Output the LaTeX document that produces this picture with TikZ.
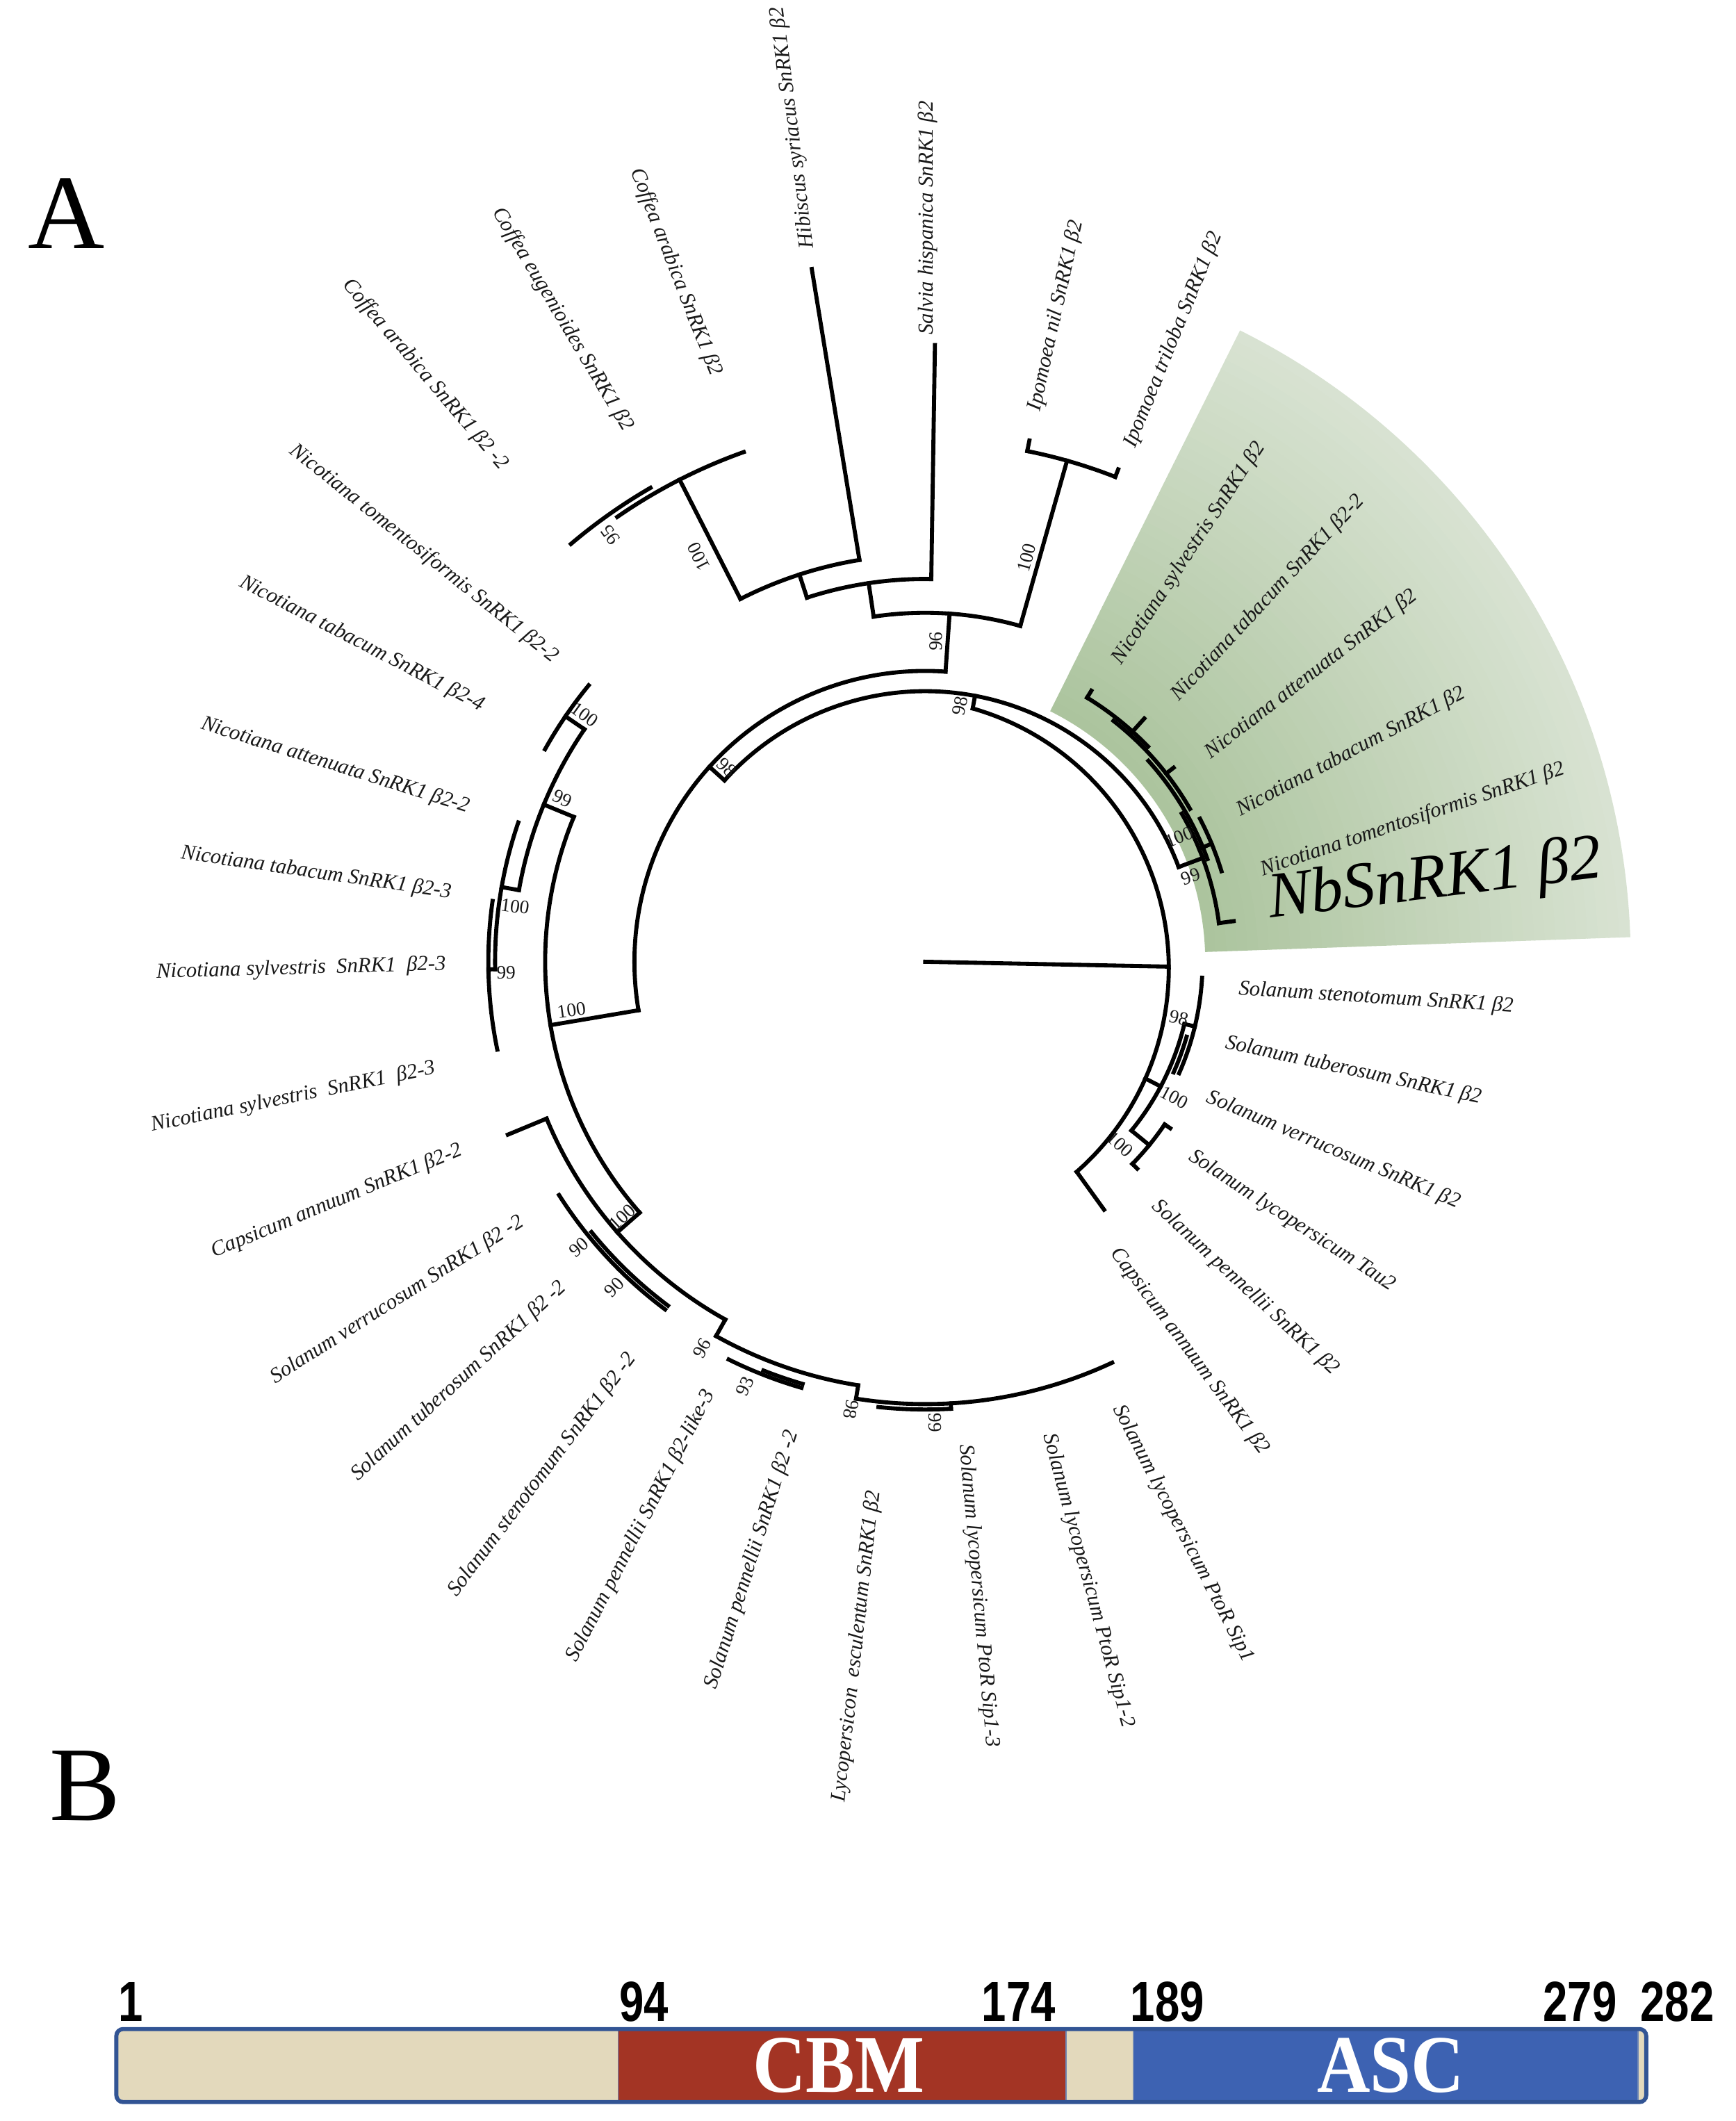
\documentclass[tikz,border=0pt]{standalone}
\usepackage{fontspec}
\setmainfont{Liberation Serif}
\newfontfamily\numfont{Liberation Sans}
\definecolor{gA}{RGB}{172,196,158}
\definecolor{gC}{RGB}{217,227,211}
\definecolor{beige}{RGB}{227,217,188}
\definecolor{cbmred}{RGB}{163,52,36}
\definecolor{ascblue}{RGB}{61,98,178}
\definecolor{barline}{RGB}{50,84,148}
\newcommand\tArc[3]{\draw[br] (#2:#1) arc[start angle=#2,end angle=#3,radius=#1mm];}
\newcommand\tRad[3]{\draw[br] (#1:#2) -- (#1:#3);}
\tikzset{
  br/.style={line width=3mm, line cap=rect, black},
  lab/.style={font=\fontsize{45}{50}\selectfont\itshape, inner sep=0pt, text=black!90},
  bs/.style={font=\fontsize{40}{44}\selectfont, inner sep=0pt, text=black!90},
  num/.style={font=\numfont\bfseries\fontsize{119}{120}\selectfont, inner sep=0pt, xscale=0.78},
  dom/.style={font=\fontsize{172}{172}\selectfont\bfseries, text=white, inner sep=0pt, xscale=0.9},
}
\begin{document}
\begin{tikzpicture}[x=1mm,y=1mm]
\useasboundingbox (0,0) rectangle (1283,-1568);
\fill[white] (0,0) rectangle (1283,-1568);

\begin{scope}[shift={(684,-711)}]
  % green sector, drawn as rings getting lighter outwards
  \foreach \i in {0,...,39} {
    \pgfmathsetmacro\ra{207+\i*7.85}
    \pgfmathsetmacro\rb{\ra+8.4}
    \pgfmathsetmacro\pc{100-\i*2.5}
    \fill[gA!\pc!gC] (2:\ra) arc[start angle=2,end angle=63.5,radius=\ra*1mm] -- (63.5:\rb) arc[start angle=63.5,end angle=2,radius=\rb*1mm] -- cycle;
  }
  % main arcs
  \tArc{200}{20.5}{137.9}
  \tRad{137.9}{200}{215}
  \tRad{20.5}{200}{219}
  \tArc{215}{86}{189.6}
  \tRad{86}{215}{258}
  \tRad{189.6}{215}{281}
  \tArc{258}{74.2}{98.5}
  \tRad{74.2}{258}{385}
  \tRad{98.5}{258}{283}
  \tArc{385}{68.6}{78.7}
  \tRad{78.7}{385}{393}
  \tRad{68.6}{385}{391}
  \tArc{283}{89.1}{108}
  \tRad{89.1}{283}{456}
  \tRad{108}{283}{301}
  \tArc{301}{99.3}{117}
  \tRad{99.3}{301}{519}
  \tRad{117}{301}{400}
  \tArc{400}{109.6}{124.7}
  \tArc{405}{120.1}{130.3}
  \tArc{281}{157.6}{221.3}
  \tRad{157.6}{281}{305}
  \tRad{221.3}{281}{303}
  \tArc{305}{145.7}{170}
  \tRad{145.7}{305}{322}
  \tRad{170}{305}{318}
  \tArc{322}{140.6}{150.8}
  \tArc{318}{161.1}{181}
  \tRad{181}{318}{323}
  \tArc{323}{172}{191.6}
  \tArc{303}{202.5}{240.8}
  \tRad{202.5}{303}{334}
  \tRad{240.8}{303}{317}
  \tArc{321}{212.5}{233.2}
  \tArc{317.5}{219}{233.2}
  \tArc{317}{240.8}{261}
  \tRad{261}{317}{327}
  \tArc{328}{243.7}{253.8}
  \tArc{325}{248.4}{253.8}
  \tArc{327}{261}{295}
  \tArc{331}{264}{273.3}
  \tRad{273.3}{327}{331}
  % Solanum (right)
  \tArc{197}{-13.5}{-39.3}
  \tRad{-13.5}{197}{205}
  \tRad{-39.3}{197}{214}
  \tArc{205}{-3.3}{-23.7}
  \tArc{201}{-16}{-24}
  \tArc{214}{-34.2}{-44.3}
  \tRad{-34.2}{214}{219}
  \tRad{-44.3}{214}{219}
  % green clade
  \tArc{219}{7.5}{30}
  \tArc{222}{20}{42}
  \tArc{226}{30}{52}
  \tArc{229}{44}{58.5}
  \tRad{7.5}{219}{230}
  \tRad{58.5}{229}{235}
  \tRad{48}{228}{242}
  \tRad{38}{226}{233}
  \tRad{22.4}{219}{229}
  \tArc{229}{17}{27.5}
  % root and innermost arc
  \draw[br] (0,0) -- (180,-3.6);
  \begin{scope}[shift={(-20,-5)}]
    \draw[br] (74:200) arc[start angle=74,end angle=-48.7,radius=200mm];
  \end{scope}
  \draw[br] (35.1,187.3) -- (79.4:200);
  \draw[br] (112,-155.3) -- (-54.2:226);
  \draw[br] (162.7,-86.3) -- (-27.9:197);

  % bootstrap values
  \node[bs, rotate=80] (b1) at (82.3:191) {98};
  \node[bs, rotate=-44] (b2) at (135.6:205.3) {98};
  \node[bs, rotate=88] (b3) at (88.1:237) {96};
  \node[bs, rotate=75] (b4) at (75.9:308) {100};
  \node[bs, rotate=117] (b5) at (119.2:343) {100};
  \node[bs, rotate=126] (b6) at (126.4:392) {95};
  \node[bs, rotate=8] (b7) at (187.8:264) {100};
  \node[bs, rotate=-24] (b8) at (155.8:294) {99};
  \node[bs, rotate=-36] (b9) at (144:311) {100};
  \node[bs, rotate=-8] (b10) at (172.3:306) {100};
  \node[bs, rotate=0] (b11) at (181.5:310) {99};
  \node[bs, rotate=43] (b12) at (220.1:293) {100};
  \node[bs, rotate=40] (b13) at (219.5:332) {90};
  \node[bs, rotate=46] (b14) at (226.3:333) {90};
  \node[bs, rotate=60] (b15) at (240:330) {96};
  \node[bs, rotate=67] (b16) at (247:341) {93};
  \node[bs, rotate=-99] (b17) at (260.6:335.5) {98};
  \node[bs, rotate=-89] (b18) at (271.2:341) {99};
  \node[bs, rotate=-13] (b19) at (-12.5:192) {98};
  \node[bs, rotate=-28] (b20) at (-28.6:209.5) {100};
  \node[bs, rotate=-42] (b21) at (-43.1:197.4) {100};
  \node[bs, rotate=22] (b22) at (26.1:209) {100};
  \node[bs, rotate=20] (b23) at (17.8:206) {99};
\end{scope}

% leaf labels, right side
\node[lab, anchor=west, rotate=-3.6] (l1) at (915.7,-731.4) {Solanum stenotomum SnRK1 β2};
\node[lab, anchor=west, rotate=-12.2] (l2) at (906.1,-771.1) {Solanum tuberosum SnRK1 β2};
\node[lab, anchor=west, rotate=-23] (l3) at (892.8,-810.7) {Solanum verrucosum SnRK1 β2};
\node[lab, anchor=west, rotate=-33] (l4) at (880.1,-854) {Solanum lycopersicum Tau2};
\node[lab, anchor=west, rotate=-42.8] (l5) at (853.8,-890) {Solanum pennellii SnRK1 β2};
\node[lab, anchor=west, rotate=-53.3] (l6) at (823.9,-924.3) {Capsicum annuum SnRK1 β2};
\node[lab, anchor=west, rotate=-62.8] (l7) at (826.2,-1039.6) {Solanum lycopersicum PtoR Sip1};
\node[lab, anchor=west, rotate=-74.8] (l8) at (774.9,-1060.1) {Solanum lycopersicum PtoR Sip1-2};
\node[lab, anchor=west, rotate=-84.9] (l9) at (713.3,-1068) {Solanum lycopersicum PtoR Sip1-3};
% left side
\node[lab, anchor=east, rotate=83.6] (l10) at (646.5,-1102) {Lycopersicon\ \ esculentum SnRK1 β2};
\node[lab, anchor=east, rotate=72.4] (l11) at (586.2,-1058) {Solanum pennellii SnRK1 β2 -2};
\node[lab, anchor=east, rotate=62.8] (l12) at (524.9,-1028.6) {Solanum pennellii SnRK1 β2-like-3};
\node[lab, anchor=east, rotate=53] (l13) at (467.3,-1002.3) {Solanum stenotomum SnRK1 β2 -2};
\node[lab, anchor=east, rotate=42.6] (l14) at (416.8,-949.9) {Solanum tuberosum SnRK1 β2 -2};
\node[lab, anchor=east, rotate=32.4] (l15) at (386.2,-902.4) {Solanum verrucosum SnRK1 β2 -2};
\node[lab, anchor=east, rotate=22.5] (l16) at (341.1,-850) {Capsicum annuum SnRK1 β2-2};
\node[lab, anchor=east, rotate=11.5] (l17) at (321.7,-789.9) {Nicotiana sylvestris\ \ SnRK1\ \ β2-3};
\node[lab, anchor=east, rotate=1.6] (l18) at (329.6,-713.2) {Nicotiana sylvestris\ \ SnRK1\ \ β2-3};
\node[lab, anchor=east, rotate=-8.3] (l19) at (333.5,-660.1) {Nicotiana tabacum SnRK1 β2-3};
\node[lab, anchor=east, rotate=-17.5] (l20) at (346.6,-597.2) {Nicotiana attenuata SnRK1 β2-2};
\node[lab, anchor=east, rotate=-27.4] (l21) at (357.1,-522.5) {Nicotiana tabacum SnRK1 β2-4};
\node[lab, anchor=east, rotate=-38.6] (l22) at (410.8,-487.1) {Nicotiana tomentosiformis SnRK1 β2-2};
\node[lab, anchor=east, rotate=-49.5] (l23) at (372.8,-345.5) {Coffea arabica SnRK1 β2 -2};
\node[lab, anchor=east, rotate=-59.2] (l24) at (464.2,-317.5) {Coffea eugenioides SnRK1 β2};
\node[lab, anchor=east, rotate=-68.7] (l25) at (529.1,-277.1) {Coffea arabica SnRK1 β2};
% top
\node[lab, anchor=west, rotate=97.2] (l26) at (597.6,-183.7) {Hibiscus syriacus SnRK1 β2};
\node[lab, anchor=west, rotate=90] (l27) at (685.9,-247.5) {Salvia hispanica SnRK1 β2};
\node[lab, anchor=west, rotate=77.5] (l28) at (765.2,-303.5) {Ipomoea nil SnRK1 β2};
\node[lab, anchor=west, rotate=67.8] (l29) at (835.4,-330) {Ipomoea triloba SnRK1 β2};
% green clade
\node[lab, anchor=west, rotate=56.6] (l30) at (825.9,-489.6) {Nicotiana sylvestris SnRK1 β2};
\node[lab, anchor=west, rotate=47.1] (l31) at (868.9,-516.1) {Nicotiana tabacum SnRK1 β2-2};
\node[lab, anchor=west, rotate=37.8] (l32) at (893,-558.1) {Nicotiana attenuata SnRK1 β2};
\node[lab, anchor=west, rotate=27.8] (l33) at (915.3,-600.1) {Nicotiana tabacum SnRK1 β2};
\node[lab, anchor=west, rotate=18.6] (l34) at (932.5,-643.7) {Nicotiana tomentosiformis SnRK1 β2};
\node[anchor=west, rotate=7, inner sep=0pt, font=\fontsize{136}{140}\selectfont\itshape] (l35) at (937.7,-667) {NbSnRK1 β2};

% panel letters
\node[font=\fontsize{223}{230}\selectfont, inner sep=0pt] (pA) at (49,-158) {A};
\node[font=\fontsize{223}{230}\selectfont, inner sep=0pt] (pB) at (63,-1320) {B};

% domain bar
\fill[beige] (87,-1501) rectangle (457,-1553);
\fill[cbmred] (457,-1501) rectangle (788,-1553);
\fill[beige] (788,-1501) rectangle (838,-1553);
\fill[ascblue] (838,-1501) rectangle (1211,-1553);
\fill[beige] (1211,-1501) rectangle (1216,-1553);
\draw[barline!70, line width=0.8mm] (457,-1501) -- (457,-1553) (788,-1501) -- (788,-1553) (838,-1501) -- (838,-1553) (1211,-1501) -- (1211,-1553);
\draw[barline, line width=3mm, rounded corners=5mm] (86,-1500) rectangle (1217,-1554);
\node[dom] (cbm) at (620,-1527) {CBM};
\node[dom] (asc) at (1028,-1527) {ASC};
\node[num] (n1) at (96.5,-1480) {1};
\node[num] (n94) at (476,-1480) {94};
\node[num] (n174) at (753,-1480) {174};
\node[num] (n189) at (863,-1480) {189};
\node[num] (n279) at (1168,-1480) {279};
\node[num] (n282) at (1240,-1480) {282};
\end{tikzpicture}
\end{document}
